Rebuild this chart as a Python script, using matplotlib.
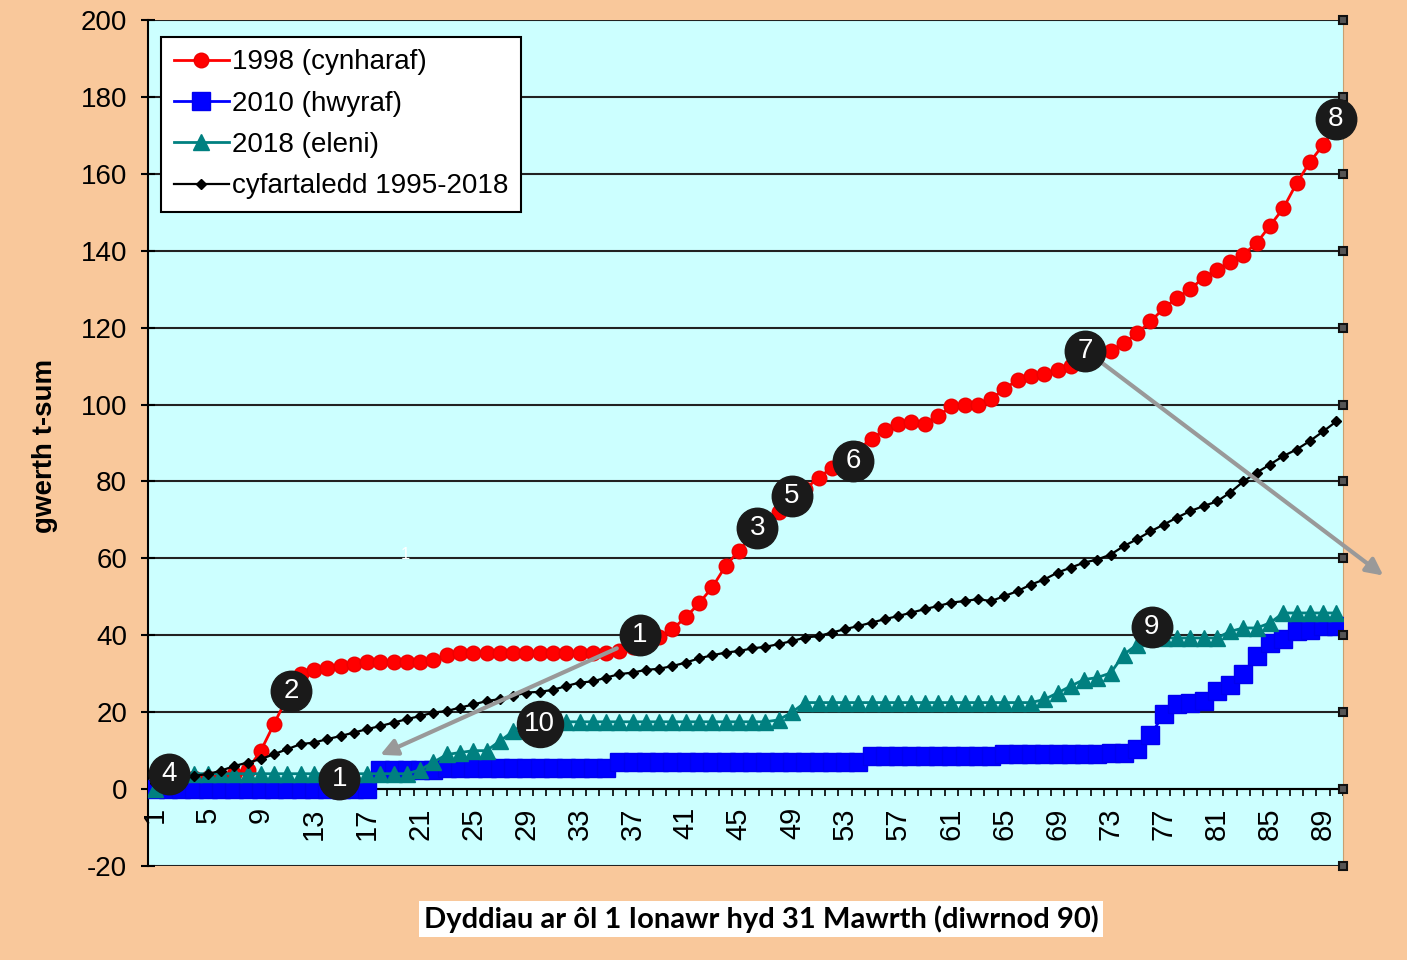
import matplotlib.pyplot as plt
from matplotlib.transforms import blended_transform_factory
import numpy as np

plt.rcParams['font.family'] = ['Liberation Sans', 'DejaVu Sans']
plt.rcParams['axes.unicode_minus'] = False

# diwrnod 1 .. 90 (1 Ionawr - 31 Mawrth)
dyddiau = np.arange(1, 91)

t_1998 = [1, 2, 2, 3, 3, 3, 4, 5, 10, 17,
          24, 30, 31, 31.5, 32, 32.5, 33, 33, 33, 33,
          33, 33.5, 35, 35.5, 35.5, 35.5, 35.5, 35.5, 35.5, 35.5,
          35.5, 35.5, 35.5, 35.5, 35.5, 36, 37, 38, 39.5, 41.6,
          44.7, 48.3, 52.5, 58, 62, 66, 69, 72, 75, 78,
          81, 83.5, 86, 88.5, 91, 93.5, 95, 95.5, 95, 97,
          99.5, 100, 100, 101.5, 104, 106.5, 107.5, 108, 109, 110,
          111, 112.5, 114, 116, 118.5, 121.6, 125, 127.8, 130, 133,
          135, 137, 139, 142, 146.5, 151, 157.5, 163, 167.5, 172]

t_2010 = [0] * 17 + [5] * 5 + [5.5] * 13 + [7] * 19 + [8.5] * 10 + [9] * 8 + \
         [9.5, 9.5, 10.4, 14, 19.5, 22, 22.5, 22.8, 25.5, 27,
          30, 34.6, 38, 39, 41, 41.5, 42.4, 42.4]

t_2018 = [0] + [4] * 19 + [5, 7, 9, 9.5, 10, 10, 12.5, 15] + [17.5] * 19 + \
         [18, 20] + [22.5] * 18 + \
         [23.3, 25, 26.8, 28.5, 29, 30.2, 35, 37.6] + [39.3] * 6 + \
         [41, 41.9, 41.9, 43.2] + [45.8] * 5

cyfartaledd = [1.5, 2.5, 3, 3.5, 3.9, 4.8, 6, 6.9, 7.8, 9.1,
               10.4, 11.7, 12.1, 13, 13.8, 14.7, 15.6, 16.4, 17.3, 18.2,
               19, 19.9, 20.3, 21.2, 22, 22.9, 23.4, 24.2, 25.1, 25.3,
               25.8, 26.8, 27.7, 28, 29, 29.9, 30.3, 31, 31.3, 32,
               32.9, 34, 34.8, 35.5, 35.9, 36.6, 37, 37.7, 38.5, 39.4,
               39.8, 40.7, 41.6, 42.4, 43.3, 44.2, 45, 45.9, 46.8, 47.6,
               48.5, 48.9, 49.4, 48.9, 50.2, 51.5, 53.2, 54.5, 56.3, 57.6,
               58.9, 59.7, 61, 63.2, 65, 67, 68.8, 70.6, 72.3, 73.6,
               74.8, 77.1, 80, 82.3, 84.4, 86.6, 88.3, 90.5, 93, 95.6]

enwau = ['1998 (cynharaf)', '2010 (hwyraf)', '2018 (eleni)', 'cyfartaledd 1995-2018']

# rhifau mewn cylchoedd: (testun, diwrnod, gwerth)
rhifau = [('1', 37.55, 40.0), ('2', 11.3, 25.4), ('3', 46.4, 68.0), ('4', 2.1, 3.9),
          ('5', 49.0, 76.1), ('6', 53.6, 85.2), ('7', 71.1, 113.8), ('8', 89.95, 174.3),
          ('9', 76.1, 42.1), ('10', 30.0, 16.9), ('1', 14.9, 2.6)]

fig = plt.figure(figsize=(14.07, 9.6), dpi=100, facecolor='#F9C89B')
ax = fig.add_axes([0.1052, 0.0979, 0.8493, 0.8813])
ax.set_facecolor('#CCFFFF')

ax.plot(dyddiau, t_1998, color='#FF0000', lw=2, marker='o', ms=10.5, mec='#EE0000', label=enwau[0], zorder=3)
ax.plot(dyddiau, t_2010, color='#0000FF', lw=2, marker='s', ms=12.5, mec='#0000EE', label=enwau[1], zorder=3)
ax.plot(dyddiau, t_2018, color='#008080', lw=2, marker='^', ms=12, mec='#008080', label=enwau[2], zorder=4)
ax.plot(dyddiau, cyfartaledd, color='black', lw=1.6, marker='D', ms=5.5, label=enwau[3], zorder=5)

ax.set_xlim(0.5, 90.5)
ax.set_ylim(-20, 200)
ax.set_yticks(np.arange(-20, 201, 20))
ax.grid(axis='y', color='#222222', lw=1.5, zorder=1)
ax.set_axisbelow(True)

# echelin x ar 0
ax.spines['bottom'].set_position(('data', 0))
ax.spines['bottom'].set_linewidth(1.5)
ax.spines['left'].set_linewidth(1.5)
ax.spines['top'].set_visible(False)
ax.spines['right'].set_color('#C8A070')

ax.set_xticks(np.arange(1, 90, 4))
ax.set_xticklabels([str(d) for d in range(1, 90, 4)], rotation=90, va='top', ha='center', fontsize=21)
ax.set_xticks(np.arange(0.5, 91, 1), minor=True)
ax.tick_params(axis='x', which='major', length=0, pad=13)
ax.tick_params(axis='x', which='minor', length=5, width=1.2, direction='out')
ax.tick_params(axis='y', direction='inout', length=10, width=1.5, labelsize=20, pad=10)

# dolenni bach ar ochr dde'r llinellau grid
trans = blended_transform_factory(ax.transAxes, ax.transData)
ax.plot([1.0] * 12, np.arange(-20, 201, 20), ls='none', marker='s', ms=6,
        mfc='#555555', mec='#111111', mew=1.5, transform=trans, clip_on=False, zorder=6)

leg = ax.legend(loc='upper left', bbox_to_anchor=(0.011, 0.98), fontsize=20, frameon=True,
                fancybox=False, edgecolor='black', framealpha=1, borderaxespad=0,
                handlelength=2.0, handletextpad=0.1, labelspacing=0.55, borderpad=0.45)
leg.get_frame().set_linewidth(1.5)
leg.set_zorder(7)

# saethau llwyd
ax.annotate('', xy=(17.8, 8.6), xytext=(36.0, 36.9),
            arrowprops=dict(arrowstyle='-|>', color='#999999', lw=3, mutation_scale=25), zorder=6)
ax.annotate('', xy=(93.7, 55.1), xytext=(71.9, 112.0), annotation_clip=False,
            arrowprops=dict(arrowstyle='-|>', color='#999999', lw=3, mutation_scale=25), zorder=6)

for testun, dx, dy in rhifau:
    maint = 1100 if len(testun) > 1 else 850
    ax.scatter([dx], [dy], s=maint, color='#1A1A1A', zorder=8, clip_on=False)
    ax.text(dx, dy, testun, color='white', fontsize=20, ha='center', va='center', zorder=9)

ax.text(19.85, 61, '1', color='white', fontsize=12, ha='center', va='center', zorder=2)

fig.text(0.032, 0.535, 'gwerth t-sum', rotation=90, fontsize=20, fontweight='bold',
         ha='center', va='center')
fig.text(0.541, 0.0427, 'Dyddiau ar ôl 1 Ionawr hyd 31 Mawrth (diwrnod 90)', fontsize=21,
         fontweight='bold', family=['Lato', 'DejaVu Sans'], ha='center', va='center',
         bbox=dict(boxstyle='square,pad=0.15', fc='white', ec='none'))

fig.savefig('out.png', dpi=100, facecolor=fig.get_facecolor())
